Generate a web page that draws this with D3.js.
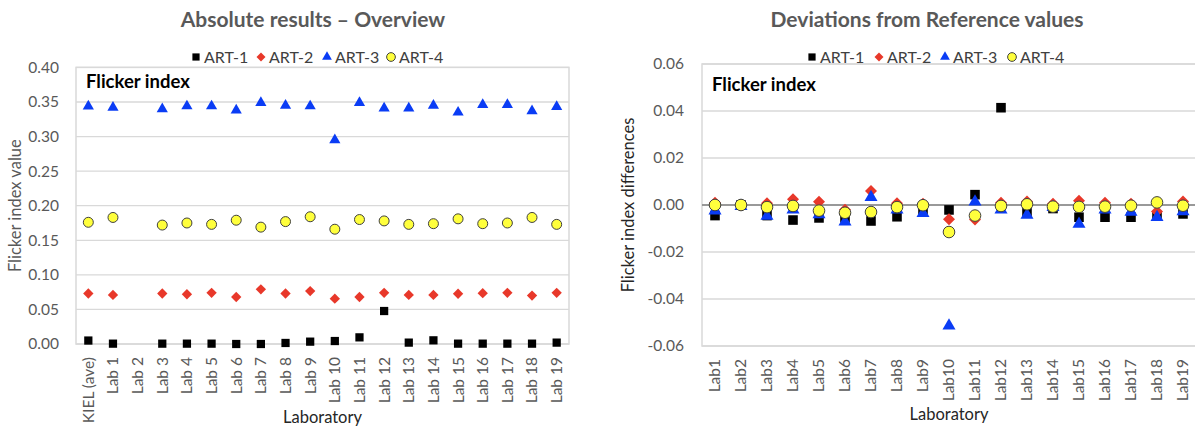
<!DOCTYPE html>
<html><head><meta charset="utf-8">
<script src="https://cdn.jsdelivr.net/npm/d3@7"></script>
<style>body{margin:0;background:#fff}svg{display:block;font-family:Lato,"Open Sans",sans-serif}</style>
</head><body><svg id="c" width="1195" height="430"></svg>
<script>
// ---- data ----
const absCategories = ["KIEL (ave)","Lab 1","Lab 2","Lab 3","Lab 4","Lab 5","Lab 6","Lab 7","Lab 8","Lab 9","Lab 10","Lab 11","Lab 12","Lab 13","Lab 14","Lab 15","Lab 16","Lab 17","Lab 18","Lab 19"];
const absArt1 = [0.005,0.0005,null,0.0005,0.0005,0.0005,0.0,0.0,0.0015,0.0034,0.0043,0.0096,0.0477,0.002,0.0053,0.0005,0.0005,0.0005,0.0005,0.002];
const absArt2 = [0.073,0.071,null,0.073,0.072,0.074,0.068,0.079,0.073,0.0765,0.0655,0.068,0.074,0.071,0.071,0.0727,0.0735,0.074,0.070,0.074];
const absArt3 = [0.3437,0.342,null,0.340,0.344,0.344,0.338,0.349,0.345,0.344,0.295,0.349,0.341,0.341,0.345,0.335,0.346,0.346,0.337,0.343];
const absArt4 = [0.176,0.183,null,0.172,0.175,0.173,0.179,0.169,0.177,0.184,0.166,0.180,0.178,0.173,0.174,0.181,0.174,0.175,0.183,0.173];
const absTicks = [0,0.05,0.10,0.15,0.20,0.25,0.30,0.35,0.40];

const devCategories = ["Lab1","Lab2","Lab3","Lab4","Lab5","Lab6","Lab7","Lab8","Lab9","Lab10","Lab11","Lab12","Lab13","Lab14","Lab15","Lab16","Lab17","Lab18","Lab19"];
const devArt1 = [-0.0045,0,-0.0045,-0.0064,-0.0055,-0.0055,-0.0068,-0.005,-0.002,-0.0021,0.0044,0.0414,-0.003,-0.0015,-0.0052,-0.0052,-0.0052,-0.0045,-0.0038];
const devArt2 = [0.001,0,0.0007,0.0024,0.0014,-0.002,0.006,0.0007,0.0005,-0.0061,-0.0062,0.001,0.0015,0.0005,0.0018,0.001,0.0005,-0.0028,0.0015];
const devArt3 = [-0.0024,-0.0005,-0.0047,-0.002,-0.004,-0.0071,0.0033,-0.002,-0.0035,-0.0514,0.0014,-0.002,-0.0043,-0.001,-0.0081,-0.002,-0.003,-0.0052,-0.0028];
const devArt4 = [0,0,-0.0009,-0.0004,-0.0024,-0.0033,-0.003,-0.0009,-0.0001,-0.0115,-0.0045,-0.0004,0.0003,-0.0007,-0.0008,-0.0007,-0.0003,0.0011,-0.0003];
const devTicks = [-0.06,-0.04,-0.02,0,0.02,0.04,0.06];

const seriesNames = ["ART-1","ART-2","ART-3","ART-4"];
// ---- style ----
const colors = {"ART-1":"#000000","ART-2":"#e8382a","ART-3":"#0a3cf5","ART-4":"#ffff3c"};
const shapes = {"ART-1":d3.symbolSquare,"ART-2":d3.symbolDiamond2,"ART-3":d3.symbolTriangle,"ART-4":d3.symbolCircle};
const svg = d3.select("#c");
const fmt = v => d3.format(".2f")(v).replace("\u2212","-");

function symbol(name, size){
  let s = size;
  if(name==="ART-3") s = size*0.8;
  if(name==="ART-4") s = size*1.15;
  return d3.symbol().type(shapes[name]).size(s)();
}
function styleMark(sel,name){
  sel.attr("fill",colors[name]);
  if(name==="ART-4") sel.attr("stroke","#404040").attr("stroke-width",1);
}

function chart(o){
  const g = svg.append("g");
  const x = d3.scaleBand().domain(o.cats).range([o.x0,o.x1]);
  const y = d3.scaleLinear().domain(o.ydom).range([o.y1,o.y0]);
  // gridlines
  g.append("g").selectAll("line").data(o.ticks).join("line")
    .attr("x1",o.x0).attr("x2",o.x1).attr("y1",d=>y(d)).attr("y2",d=>y(d))
    .attr("stroke","#d9d9d9").attr("stroke-width",1.3);
  // border
  g.append("rect").attr("x",o.x0).attr("y",o.y0).attr("width",o.x1-o.x0).attr("height",o.y1-o.y0)
    .attr("fill","none").attr("stroke","#d9d9d9").attr("stroke-width",1.5);
  if(o.zero){
    g.append("line").attr("x1",o.x0).attr("x2",o.x1).attr("y1",y(0)).attr("y2",y(0))
      .attr("stroke","#808080").attr("stroke-width",1.3);
  }
  // y axis
  const ya = g.append("g").attr("transform",`translate(${o.x0},0)`)
    .call(d3.axisLeft(y).tickValues(o.ticks).tickFormat(fmt).tickSize(0).tickPadding(o.tickPad));
  ya.select(".domain").remove();
  ya.selectAll("text").attr("font-size",15.5).attr("fill","#595959").attr("font-family","Lato");
  // x axis
  const xa = g.append("g").attr("transform",`translate(0,${o.y1})`)
    .call(d3.axisBottom(x).tickSize(0));
  xa.select(".domain").remove();
  xa.selectAll("text").attr("font-size",15.5).attr("fill","#595959").attr("font-family","Lato")
    .attr("transform","rotate(-90)").attr("text-anchor","end").attr("dx",-13).attr("dy","0.35em").attr("y",0);
  // series
  o.series.forEach((vals,i)=>{
    const name = seriesNames[i];
    const pts = vals.map((v,j)=>({v,c:o.cats[j]})).filter(d=>d.v!==null);
    g.append("g").selectAll("path").data(pts).join("path")
      .attr("transform",d=>`translate(${x(d.c)+x.bandwidth()/2},${y(d.v)})`)
      .attr("d",symbol(name,o.msize)).call(styleMark,name);
  });
  // inner label
  g.append("text").attr("x",o.x0+10).attr("y",o.y0+o.labDy).text("Flicker index")
    .attr("font-size",18.5).attr("font-weight","bold").attr("fill","#000");
  // title
  g.append("text").attr("x",o.titleX).attr("y",27).attr("text-anchor","middle").text(o.title)
    .attr("font-size",21).attr("font-weight","bold").attr("fill","#595959");
  // legend
  const lg = g.append("g");
  seriesNames.forEach((name,i)=>{
    const lx = o.legX[i];
    lg.append("path").attr("transform",`translate(${lx},57)`).attr("d",symbol(name,52)).call(styleMark,name);
    lg.append("text").attr("x",lx+8).attr("y",62.5).text(name).attr("font-size",16).attr("fill","#404040");
  });
  // axis titles
  g.append("text").attr("transform",`translate(${o.yTitleX},${(o.y0+o.y1)/2}) rotate(-90)`)
    .attr("text-anchor","middle").attr("dy","0.35em").text(o.yTitle).attr("font-size",16.5).attr("fill",o.yTitleColor);
  g.append("text").attr("x",(o.x0+o.x1)/2).attr("y",o.xTitleY).attr("text-anchor","middle")
    .text("Laboratory").attr("font-size",16.5).attr("fill","#262626");
}

chart({cats:absCategories,x0:76,x1:569,y0:67.4,y1:344,ydom:[0,0.4],ticks:absTicks,tickPad:17,
  series:[absArt1,absArt2,absArt3,absArt4],msize:68,zero:false,labDy:21,
  title:"Absolute results \u2013 Overview",titleX:313,legX:[196,261,327,391],
  yTitle:"Flicker index value",yTitleX:15,yTitleColor:"#595959",xTitleY:423});

chart({cats:devCategories,x0:702,x1:1196,y0:64,y1:346,ydom:[-0.06,0.06],ticks:devTicks,tickPad:18,
  series:[devArt1,devArt2,devArt3,devArt4],msize:92,zero:true,labDy:27,
  title:"Deviations from Reference values",titleX:927,legX:[812,879,945,1012],
  yTitle:"Flicker index differences",yTitleX:628,yTitleColor:"#262626",xTitleY:420});
</script></body></html>
